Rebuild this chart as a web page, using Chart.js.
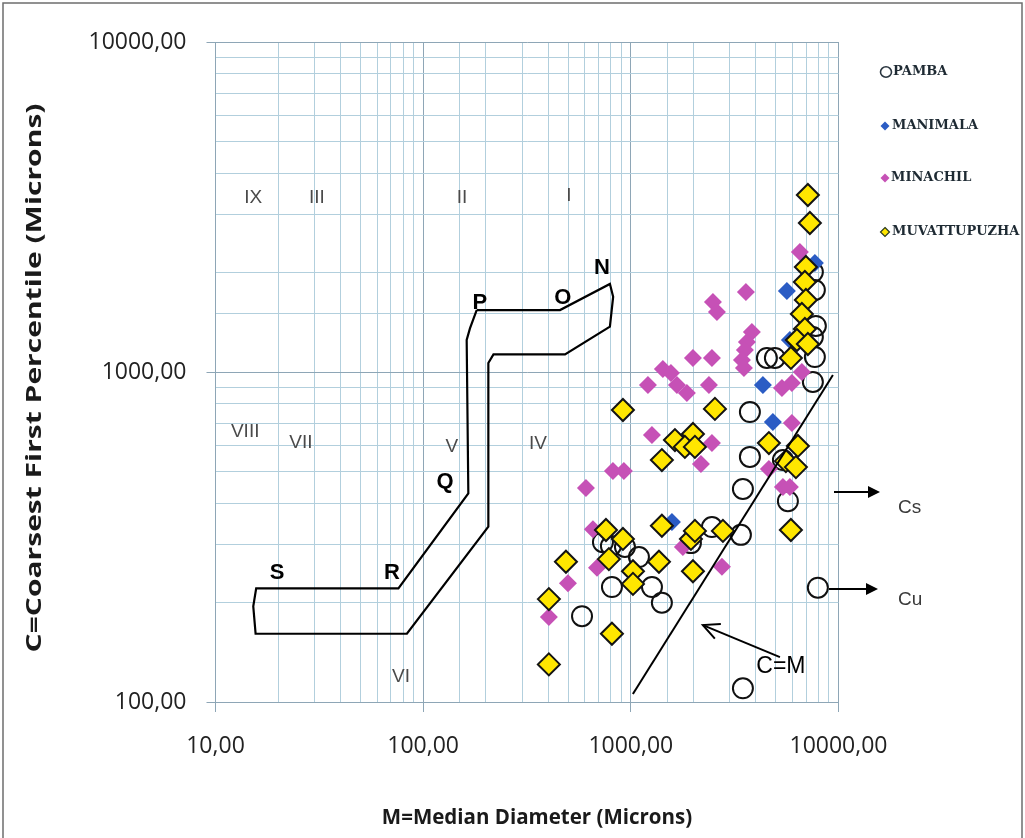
<!DOCTYPE html>
<html>
<head>
<meta charset="utf-8">
<script src="https://cdn.jsdelivr.net/npm/chart.js@4/dist/chart.umd.min.js"></script>
<style>
  html, body { margin: 0; padding: 0; background: #ffffff; }
  canvas { display: block; }
</style>
</head>
<body>
<canvas id="cm" width="1025" height="838"></canvas>
<script>
// C-M (Passega) diagram: coarsest first percentile vs median diameter, in microns.

const pambaMedian    = [7526, 7694, 7780, 7526, 7694, 4521, 4940, 7526, 3744, 3744, 5400, 3465, 5706, 2458, 3389, 1947, 1094, 734, 802, 937, 811, 1264, 1411, 582, 3465, 7954];
const pambaCoarsest  = [2009, 1772, 1379, 1277, 1110, 1103, 1103, 933, 756, 553, 541, 442, 406, 339, 321, 303, 275, 305, 297, 295, 223, 223, 200, 182, 110, 222];

const manimalaMedian   = [7694, 5643, 5834, 4325, 4832, 1577];
const manimalaCoarsest = [2140, 1760, 1250, 913, 705, 351];

const minachilMedian   = [6516, 3582, 2485, 2598, 3828, 3622, 3542, 3427, 3504, 1991, 2458, 1427, 1560, 1209, 1667, 1862, 2377, 5964, 6662, 5340, 5964, 1264, 2458, 608, 820, 926, 2175, 4622, 5400, 5834, 657, 687, 498, 1781, 2746, 403];
const minachilCoarsest = [2310, 1748, 1630, 1520, 1322, 1233, 1166, 1087, 1028, 1103, 1103, 1021, 993, 913, 913, 864, 913, 926, 1000, 894, 701, 644, 609, 445, 501, 501, 526, 508, 448, 448, 334, 255, 229, 295, 257, 181];

const muvattupuzhaMedian   = [7121, 7281, 6965, 6888, 6965, 6662, 6888, 6305, 7121, 5899, 916, 2541, 1631, 1991, 1821, 2035, 1411, 4622, 6375, 5580, 6235, 759, 916, 784, 487, 1366, 1024, 1024, 403, 1411, 1947, 2035, 2776, 1991, 5899, 811, 403];
const muvattupuzhaCoarsest = [3439, 2828, 2081, 1874, 1653, 1499, 1350, 1250, 1216, 1103, 767, 773, 622, 649, 593, 593, 541, 609, 597, 537, 515, 332, 312, 271, 266, 266, 249, 228, 205, 342, 312, 330, 330, 249, 332, 161, 130];

// Outline of the N-O-P-Q-R-S pattern (closed)
const patternMedian   = [181, 456, 793, 822, 793, 482, 218, 206, 206, 83.5, 15.6, 15.2, 15.7, 76, 165, 162, 168, 181];
const patternCoarsest = [1541, 1541, 1848, 1691, 1372, 1131, 1131, 1065, 340, 161, 161, 195, 221, 221, 429, 1250, 1356, 1541];

// C = M reference line
const cmLineMedian   = [1023, 9400];
const cmLineCoarsest = [105.7, 979];

// Axis range and labelled ticks
const medianRange   = [10, 10000];
const coarsestRange = [100, 10000];
const seriesNames = ['PAMBA', 'MANIMALA', 'MINACHIL', 'MUVATTUPUZHA'];

const zip = (xs, ys) => xs.map((v, i) => ({ x: v, y: ys[i] }));
const isDecade = v => Math.abs(Math.log10(v) - Math.round(Math.log10(v))) < 1e-9;
const fmt = v => v.toFixed(2).replace('.', ',');

const GRID_MINOR = '#b2cfdd';
const GRID_MAJOR = '#8ea6b6';

const decor = {
  id: 'cmDecor',
  beforeDraw(chart) {
    const c = chart.ctx;
    c.save();
    c.fillStyle = '#ffffff';
    c.fillRect(0, 0, chart.width, chart.height);
    c.restore();
  },
  afterDraw(chart) {
    const c = chart.ctx;
    const sx = chart.scales.x, sy = chart.scales.y;
    const px = m => sx.getPixelForValue(m);
    const py = v => sy.getPixelForValue(v);
    c.save();

    // outer frame
    c.strokeStyle = '#6e6e6e';
    c.lineWidth = 1.5;
    c.beginPath();
    c.moveTo(3, 845); c.lineTo(3, 3); c.lineTo(1022, 3); c.lineTo(1022, 845);
    c.stroke();

    // zone numerals
    c.fillStyle = '#4a4a4a';
    c.font = '19px "Liberation Sans", Arial, sans-serif';
    c.textAlign = 'center';
    c.textBaseline = 'middle';
    [['IX', 15.2, 3370], ['III', 30.8, 3370], ['II', 153.8, 3370], ['I', 503, 3415],
     ['VIII', 13.9, 658], ['VII', 25.8, 609], ['V', 137.6, 593], ['IV', 357, 605], ['VI', 78.2, 119]]
      .forEach(([t, m, v]) => c.fillText(t, px(m), py(v)));

    // pattern vertices
    c.fillStyle = '#000000';
    c.font = 'bold 22px "Liberation Sans", Arial, sans-serif';
    [['N', 726, 2066], ['O', 471, 1676], ['P', 187.7, 1619], ['Q', 127.3, 464], ['R', 70.8, 246], ['S', 19.8, 246]]
      .forEach(([t, m, v]) => c.fillText(t, px(m), py(v)));

    // C=M label and pointer arrow
    c.font = '23px "Liberation Sans", Arial, sans-serif';
    c.fillText('C=M', px(5281), py(127.6));
    const ax0 = px(5224), ay0 = py(136.8), ax1 = px(2223), ay1 = py(171);
    c.strokeStyle = '#000000';
    c.lineWidth = 2;
    c.beginPath(); c.moveTo(ax0, ay0); c.lineTo(ax1, ay1); c.stroke();
    const ang = Math.atan2(ay1 - ay0, ax1 - ax0);
    c.beginPath();
    c.moveTo(ax1 - 18 * Math.cos(ang - 0.45), ay1 - 18 * Math.sin(ang - 0.45));
    c.lineTo(ax1, ay1);
    c.lineTo(ax1 - 18 * Math.cos(ang + 0.45), ay1 - 18 * Math.sin(ang + 0.45));
    c.stroke();

    // Cs / Cu arrows outside the plot
    const arrow = (x0, x1, yy) => {
      c.beginPath(); c.moveTo(x0, yy); c.lineTo(x1 - 8, yy); c.stroke();
      c.beginPath(); c.moveTo(x1, yy); c.lineTo(x1 - 12, yy - 6); c.lineTo(x1 - 12, yy + 6); c.closePath(); c.fill();
    };
    arrow(834, 880, 492);
    arrow(829, 878, 589);
    c.fillStyle = '#3a3a3a';
    c.font = '19px "Liberation Sans", Arial, sans-serif';
    c.textAlign = 'left';
    c.fillText('Cs', 898, 508);
    c.fillText('Cu', 898, 600);

    // axis titles
    c.fillStyle = '#1a1a1a';
    c.font = 'bold 20.5px "Open Sans", sans-serif';
    c.textAlign = 'center';
    c.fillText('M=Median Diameter (Microns)', 537, 818);
    c.save();
    c.translate(35, 378);
    c.rotate(-Math.PI / 2);
    c.scale(1.5, 1.05);
    c.font = 'bold 20px "Open Sans", sans-serif';
    c.fillText('C=Coarsest First Percentile (Microns)', 0, 0);
    c.restore();

    // legend
    const ly = [72, 126, 178, 232];
    c.font = 'bold 13px "DejaVu Serif", serif';
    c.textAlign = 'left';
    c.fillStyle = '#1e2a33';
    c.fillText(seriesNames[0], 893, ly[0]);
    c.strokeStyle = '#2a3640';
    c.lineWidth = 1.6;
    c.beginPath(); c.ellipse(886, ly[0], 5.5, 5.2, 0, 0, Math.PI * 2); c.stroke();
    const dia = (cx, cy, r, fill, stroke) => {
      c.beginPath();
      c.moveTo(cx, cy - r); c.lineTo(cx + r, cy); c.lineTo(cx, cy + r); c.lineTo(cx - r, cy); c.closePath();
      c.fillStyle = fill; c.fill();
      if (stroke) { c.strokeStyle = stroke; c.lineWidth = 1.2; c.stroke(); }
    };
    dia(885, ly[1], 4.5, '#2b5cc4');
    dia(885, ly[2], 4.5, '#c651b6');
    dia(885, ly[3], 4.5, '#ffe600', '#2a3a20');
    c.fillStyle = '#1e2a33';
    c.fillText(seriesNames[1], 892, ly[1]);
    c.fillText(seriesNames[2], 891, ly[2]);
    c.fillText(seriesNames[3], 892, ly[3]);

    c.restore();
  }
};

const gridColor = ctx => (ctx.tick && isDecade(ctx.tick.value)) ? GRID_MAJOR : GRID_MINOR;
const tickMarkColor = ctx => (ctx.tick && isDecade(ctx.tick.value)) ? GRID_MAJOR : 'rgba(0,0,0,0)';
const tickFont = { family: '"Open Sans", sans-serif', size: 23 };

new Chart(document.getElementById('cm'), {
  type: 'scatter',
  data: {
    datasets: [
      {
        label: 'C=M',
        data: zip(cmLineMedian, cmLineCoarsest),
        showLine: true, borderColor: '#000000', borderWidth: 2,
        pointRadius: 0, fill: false, order: 0
      },
      {
        label: 'pattern',
        data: zip(patternMedian, patternCoarsest),
        showLine: true, borderColor: '#000000', borderWidth: 2.2,
        pointRadius: 0, fill: false, order: 0
      },
      {
        label: seriesNames[3],
        data: zip(muvattupuzhaMedian, muvattupuzhaCoarsest),
        pointStyle: 'rectRot', pointRadius: 11,
        backgroundColor: '#ffe600', borderColor: '#141414', borderWidth: 2, order: 1
      },
      {
        label: seriesNames[2],
        data: zip(minachilMedian, minachilCoarsest),
        pointStyle: 'rectRot', pointRadius: 9,
        backgroundColor: '#c651b6', borderColor: '#c651b6', borderWidth: 0, order: 2
      },
      {
        label: seriesNames[1],
        data: zip(manimalaMedian, manimalaCoarsest),
        pointStyle: 'rectRot', pointRadius: 9,
        backgroundColor: '#2b5cc4', borderColor: '#2b5cc4', borderWidth: 0, order: 3
      },
      {
        label: seriesNames[0],
        data: zip(pambaMedian, pambaCoarsest),
        pointStyle: 'circle', pointRadius: 10,
        backgroundColor: 'rgba(255,255,255,0)', borderColor: '#111111', borderWidth: 2, order: 4
      }
    ]
  },
  options: {
    responsive: false,
    animation: false,
    events: [],
    layout: { padding: { left: 0, right: 186.5, top: 42, bottom: 0 } },
    plugins: { legend: { display: false }, tooltip: { enabled: false } },
    scales: {
      x: {
        type: 'logarithmic',
        min: medianRange[0], max: medianRange[1],
        afterFit: s => { s.height = 136; },
        border: { color: GRID_MAJOR, width: 1 },
        grid: { color: gridColor, tickColor: tickMarkColor, tickLength: 10, lineWidth: 1 },
        ticks: {
          autoSkip: false, maxRotation: 0, padding: 21,
          color: '#222222', font: tickFont,
          callback: v => isDecade(v) ? fmt(v) : ''
        }
      },
      y: {
        type: 'logarithmic',
        min: coarsestRange[0], max: coarsestRange[1],
        afterFit: s => { s.width = 215.5; },
        border: { color: GRID_MAJOR, width: 1 },
        grid: { color: gridColor, tickColor: tickMarkColor, tickLength: 9, lineWidth: 1 },
        ticks: {
          autoSkip: false, padding: 20,
          color: '#222222', font: tickFont,
          callback: v => isDecade(v) ? fmt(v) : ''
        }
      }
    }
  },
  plugins: [decor]
});
</script>
</body>
</html>
